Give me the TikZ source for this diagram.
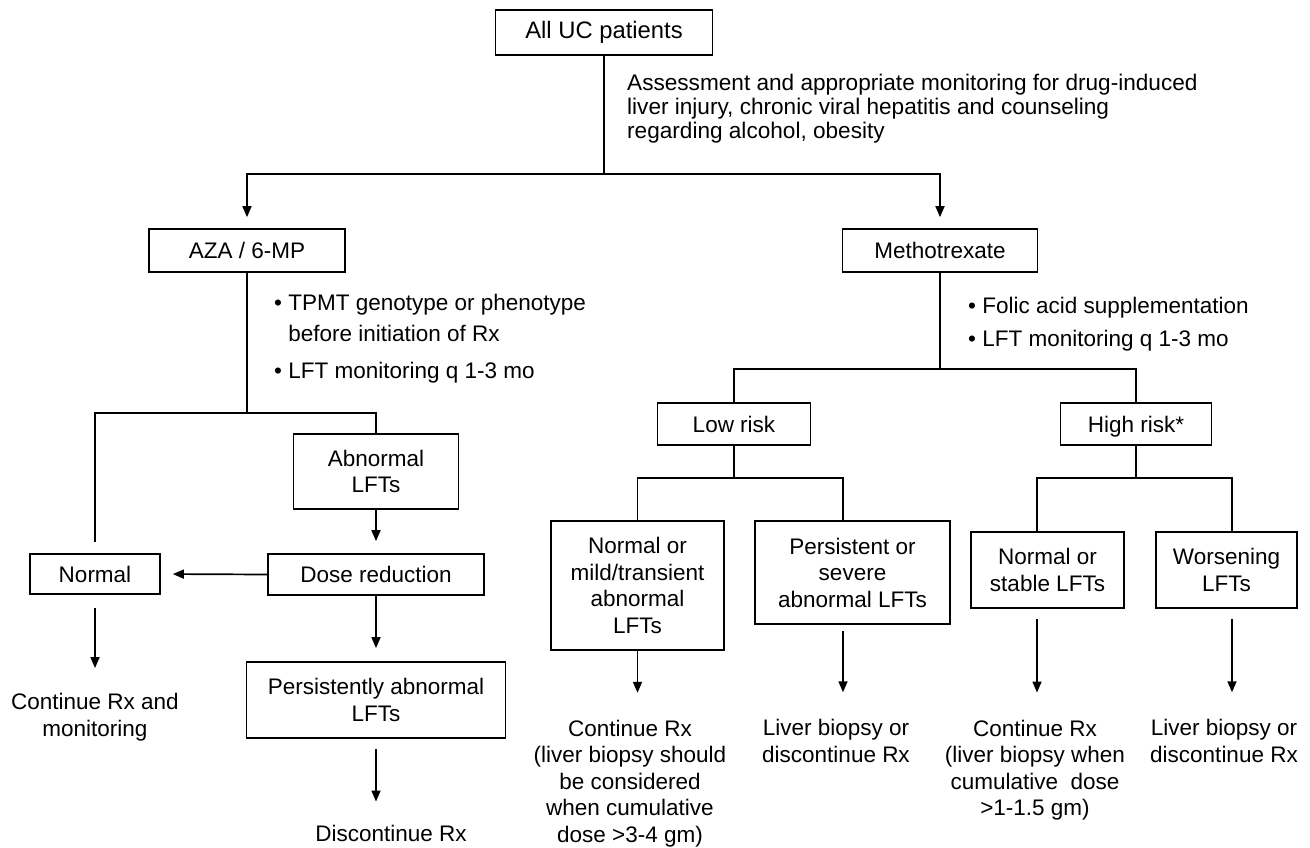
\documentclass[tikz,border=0pt]{standalone}
\usepackage{fontspec}
\setmainfont{Liberation Sans}
\usetikzlibrary{arrows.meta}
\begin{document}
\begin{tikzpicture}[x=1pt,y=-1pt,
  box/.style={draw, line width=1.7pt, inner sep=0pt, align=center,
    font=\fontsize{22.5}{26.5}\selectfont},
  lbl/.style={inner sep=0pt, align=center, font=\fontsize{22.5}{26.5}\selectfont},
  link/.style={line width=1.7pt},
  arr/.style={link, -{Triangle[length=11pt,width=9pt]}},
]
\fill[white] (0,0) rectangle (1310,847);
\useasboundingbox (0,0) rectangle (1310,847);

% top level
\node[box, minimum width=217pt, minimum height=45pt,
  font=\fontsize{23.8}{28}\selectfont] (allUC) at (604,32.5) {All UC patients};
\node[lbl, align=left, anchor=north west, font=\fontsize{22.6}{24}\selectfont]
  (assess) at (627,74) {Assessment and appropriate monitoring for drug-induced\\
  liver injury, chronic viral hepatitis and counseling\\
  regarding alcohol, obesity};

\node[box, minimum width=196pt, minimum height=43pt] (aza) at (247,250.5) {AZA / 6-MP};
\node[box, minimum width=195pt, minimum height=43pt] (mtx) at (940,250.5) {Methotrexate};

% notes under each drug
\node[lbl, align=left, anchor=north west, font=\fontsize{22.5}{31}\selectfont]
  (azaA) at (274,294) {\textbullet\ TPMT genotype or phenotype\\
  \hphantom{\textbullet\ }before initiation of Rx};
\node[lbl, align=left, anchor=north west] (azaB) at (274,362)
  {\textbullet\ LFT monitoring q 1-3 mo};
\node[lbl, align=left, anchor=north west, font=\fontsize{22.5}{33}\selectfont]
  (mtxA) at (968,297) {\textbullet\ Folic acid supplementation\\
  \textbullet\ LFT monitoring q 1-3 mo};

% AZA / 6-MP branch
\node[box, minimum width=165pt, minimum height=75pt] (abn) at (376,471.5) {Abnormal\\LFTs};
\node[box, minimum width=216pt, minimum height=41pt] (dose) at (376,574.5) {Dose reduction};
\node[box, minimum width=130pt, minimum height=40pt] (normal) at (95,574) {Normal};
\node[box, minimum width=259pt, minimum height=76pt] (persist) at (376,700)
  {Persistently abnormal\\LFTs};
\node[lbl] (cont1) at (95,717) {Continue Rx and\\monitoring};
\node[lbl] (disc) at (391,833) {Discontinue Rx};

% Methotrexate branch
\node[box, minimum width=153pt, minimum height=42pt] (lowrisk) at (734,424) {Low risk};
\node[box, minimum width=151pt, minimum height=42pt, text depth=0pt] (highrisk) at (1136,424) {High risk*};
\node[box, minimum width=173pt, minimum height=129pt] (nmild) at (637.5,585.5)
  {Normal or\\mild/transient\\abnormal\\LFTs};
\node[box, minimum width=195pt, minimum height=103pt] (pers2) at (852.5,572.5)
  {Persistent or\\severe\\abnormal LFTs};
\node[box, minimum width=153pt, minimum height=76pt] (nstable) at (1047.5,570)
  {Normal or\\stable LFTs};
\node[box, minimum width=141pt, minimum height=76pt] (worse) at (1226.5,570)
  {Worsening\\LFTs};
\node[lbl] (cont2) at (630,783.5) {Continue Rx\\(liver biopsy should\\be considered\\when cumulative\\dose >3-4 gm)};
\node[lbl] (lb1) at (836,741) {Liver biopsy or\\discontinue Rx};
\node[lbl] (cont3) at (1035,770) {Continue Rx\\(liver biopsy when\\cumulative\ \ dose\\>1-1.5 gm)};
\node[lbl] (lb2) at (1224,741) {Liver biopsy or\\discontinue Rx};

% branch points
\coordinate (s0) at (604,174);
\coordinate (s1) at (247,413);
\coordinate (s2) at (940,369);
\coordinate (s3) at (734,478);
\coordinate (lrR) at (843,478);
\coordinate (s4) at (1136,478);
\coordinate (hrL) at (1037,478);
\coordinate (hrR) at (1232,478);

% connectors
\draw[link] (allUC.south) -- (s0);
\draw[arr, shorten >=11pt] (s0) -| (aza.north);
\draw[arr, shorten >=11pt] (s0) -| (mtx.north);

\draw[link] (aza.south) -- (s1);
\draw[link, shorten >=11pt] (s1) -| (normal.north);
\draw[link] (s1) -| (abn.north);
\draw[arr, shorten >=12pt] (abn) -- (dose);
\draw[arr, shorten >=12pt] (dose.west) -- (normal.east);
\draw[arr, shorten <=13pt, shorten >=25pt] (normal.south) -- (cont1.north);
\draw[arr, shorten >=13pt] (dose) -- (persist);
\draw[arr, shorten <=10pt, shorten >=23pt] (persist.south) -- (persist.south |- disc.north);

\draw[link] (mtx.south) -- (s2);
\draw[link] (s2) -| (lowrisk.north);
\draw[link] (s2) -| (highrisk.north);
\draw[link] (lowrisk.south) -- (s3);
\draw[link] (s3) -| (nmild.north);
\draw[link] (s3) -- (lrR) -- (lrR |- pers2.north);
\draw[link] (highrisk.south) -- (s4);
\draw[link] (hrL |- nstable.north) -- (hrL) -- (hrR) -- (hrR |- worse.north);

\draw[arr, shorten >=27pt] (nmild.south) -- (nmild.south |- cont2.north);
\draw[arr, shorten <=6pt, shorten >=27pt] (pers2.south -| lrR) -- (lrR |- lb1.north);
\draw[arr, shorten <=10pt, shorten >=27pt] (hrL |- nstable.south) -- (hrL |- cont3.north);
\draw[arr, shorten <=10pt, shorten >=27pt] (hrR |- worse.south) -- (hrR |- lb2.north);
\end{tikzpicture}
\end{document}
